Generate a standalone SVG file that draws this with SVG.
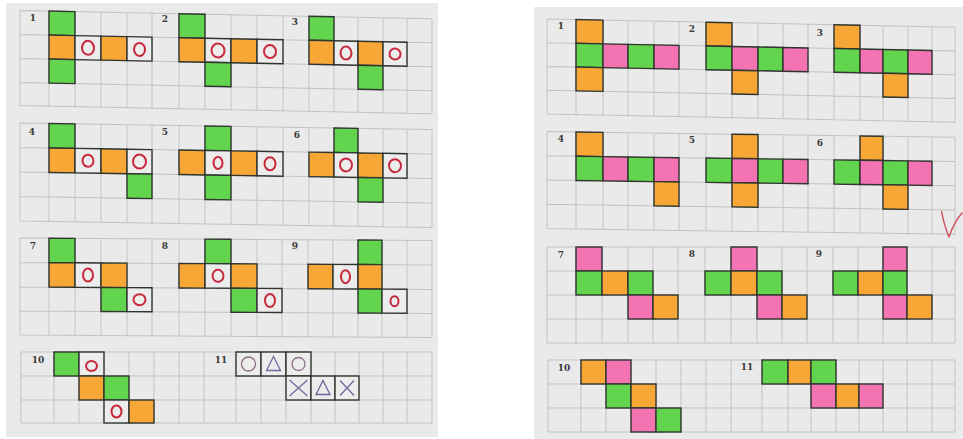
<svg xmlns="http://www.w3.org/2000/svg" width="963" height="439" viewBox="0 0 963 439">
<style>
.paper{fill:#eaeaea}
.grid{fill:none;stroke:#c3c3c3;stroke-width:1}
.g,.o,.p,.w{stroke:#2f352f;stroke-width:1.4}
.g{fill:#63d44d}
.o{fill:#f6a736}
.p{fill:#f373b3}
.w{fill:#ececec}
.c{fill:none;stroke:#c8283c;stroke-width:2}
.sym{fill:none;stroke:#6c6a9c;stroke-width:1.3}
.symc{fill:none;stroke:#8a7288;stroke-width:1.3}
.lbl{font-family:"DejaVu Serif",serif;font-weight:bold;font-size:9px;fill:#3a3a3a;text-anchor:middle}
.chk{fill:none;stroke:#d04a58;stroke-width:1.3;stroke-linecap:round;stroke-linejoin:round}
</style>
<rect width="963" height="439" fill="#ffffff"/>
<rect class="paper" x="6" y="3" width="432" height="434"/>
<rect class="paper" x="534" y="7" width="429" height="432"/>

<!-- LEFT BLOCK 1 -->
<g id="left-block1" transform="translate(20,10.5) skewY(1.15)">
<path class="grid" d="M0 0V95M29 0V95M55 0V95M81 0V95M107 0V95M132 0V95M159 0V95M185 0V95M211 0V95M237 0V95M263 0V95M289 0V95M314 0V95M338 0V95M363 0V95M387 0V95M412 0V95M0 0H412M0 24H412M0 48H412M0 72H412M0 95H412"/>
<g id="net-L1">
<rect class="g" x="29" y="0" width="26" height="24"/>
<rect class="o" x="29" y="24" width="26" height="24"/>
<rect class="w" x="55" y="24" width="26" height="24"/><ellipse class="c" cx="68" cy="36" rx="6" ry="7"/>
<rect class="o" x="81" y="24" width="26" height="24"/>
<rect class="w" x="107" y="24" width="25" height="24"/><ellipse class="c" cx="119.5" cy="36.5" rx="5.5" ry="6.5"/>
<rect class="g" x="29" y="48" width="26" height="24"/>
</g>
<g id="net-L2">
<rect class="g" x="159" y="0" width="26" height="24"/>
<rect class="o" x="159" y="24" width="26" height="24"/>
<rect class="w" x="185" y="24" width="26" height="24"/><ellipse class="c" cx="198" cy="36" rx="6.5" ry="7"/>
<rect class="o" x="211" y="24" width="26" height="24"/>
<rect class="w" x="237" y="24" width="26" height="24"/><ellipse class="c" cx="250" cy="36" rx="6" ry="6.5"/>
<rect class="g" x="185" y="48" width="26" height="24"/>
</g>
<g id="net-L3">
<rect class="g" x="289" y="0" width="25" height="24"/>
<rect class="o" x="289" y="24" width="25" height="24"/>
<rect class="w" x="314" y="24" width="24" height="24"/><ellipse class="c" cx="326" cy="36" rx="5.5" ry="6.5"/>
<rect class="o" x="338" y="24" width="25" height="24"/>
<rect class="w" x="363" y="24" width="24" height="24"/><ellipse class="c" cx="375" cy="36" rx="5.5" ry="5.5"/>
<rect class="g" x="338" y="48" width="25" height="24"/>
</g>
</g>

<!-- LEFT BLOCK 2 -->
<g id="left-block2" transform="translate(20,123) skewY(0.92)">
<path class="grid" d="M0 0V98M29 0V98M55 0V98M81 0V98M107 0V98M132 0V98M159 0V98M185 0V98M211 0V98M237 0V98M263 0V98M289 0V98M314 0V98M338 0V98M363 0V98M387 0V98M412 0V98M0 0H412M0 24.5H412M0 49H412M0 73.5H412M0 98H412"/>
<g id="net-L4">
<rect class="g" x="29" y="0" width="26" height="24.5"/>
<rect class="o" x="29" y="24.5" width="26" height="24.5"/>
<rect class="w" x="55" y="24.5" width="26" height="24.5"/><ellipse class="c" cx="68" cy="36.7" rx="5.5" ry="6"/>
<rect class="o" x="81" y="24.5" width="26" height="24.5"/>
<rect class="w" x="107" y="24.5" width="25" height="24.5"/><ellipse class="c" cx="119.5" cy="36.7" rx="6.5" ry="7"/>
<rect class="g" x="107" y="49" width="25" height="24.5"/>
</g>
<g id="net-L5">
<rect class="g" x="185" y="0" width="26" height="24.5"/>
<rect class="o" x="159" y="24.5" width="26" height="24.5"/>
<rect class="w" x="185" y="24.5" width="26" height="24.5"/><ellipse class="c" cx="198" cy="36.7" rx="4.5" ry="6"/>
<rect class="o" x="211" y="24.5" width="26" height="24.5"/>
<rect class="w" x="237" y="24.5" width="26" height="24.5"/><ellipse class="c" cx="250" cy="36.7" rx="5.5" ry="6.5"/>
<rect class="g" x="185" y="49" width="26" height="24.5"/>
</g>
<g id="net-L6">
<rect class="g" x="314" y="0" width="24" height="24.5"/>
<rect class="o" x="289" y="24.5" width="25" height="24.5"/>
<rect class="w" x="314" y="24.5" width="24" height="24.5"/><ellipse class="c" cx="326" cy="36.7" rx="6" ry="6.5"/>
<rect class="o" x="338" y="24.5" width="25" height="24.5"/>
<rect class="w" x="363" y="24.5" width="24" height="24.5"/><ellipse class="c" cx="375" cy="36.7" rx="6" ry="6.5"/>
<rect class="g" x="338" y="49" width="25" height="24.5"/>
</g>
</g>

<!-- LEFT BLOCK 3 -->
<g id="left-block3" transform="translate(20,238) skewY(0.34)">
<path class="grid" d="M0 0V97M29 0V97M55 0V97M81 0V97M107 0V97M132 0V97M159 0V97M185 0V97M211 0V97M237 0V97M262 0V97M288 0V97M313 0V97M338 0V97M362 0V97M387 0V97M412 0V97M0 0H412M0 24.5H412M0 49H412M0 73H412M0 97H412"/>
<g id="net-L7">
<rect class="g" x="29" y="0" width="26" height="24.5"/>
<rect class="o" x="29" y="24.5" width="26" height="24.5"/>
<rect class="w" x="55" y="24.5" width="26" height="24.5"/><ellipse class="c" cx="68" cy="36.7" rx="5" ry="6.5"/>
<rect class="o" x="81" y="24.5" width="26" height="24.5"/>
<rect class="g" x="81" y="49" width="26" height="24"/>
<rect class="w" x="107" y="49" width="25" height="24"/><ellipse class="c" cx="119.5" cy="61" rx="6" ry="5.5"/>
</g>
<g id="net-L8">
<rect class="g" x="185" y="0" width="26" height="24.5"/>
<rect class="o" x="159" y="24.5" width="26" height="24.5"/>
<rect class="w" x="185" y="24.5" width="26" height="24.5"/><ellipse class="c" cx="198" cy="36.7" rx="5.5" ry="6"/>
<rect class="o" x="211" y="24.5" width="26" height="24.5"/>
<rect class="g" x="211" y="49" width="26" height="24"/>
<rect class="w" x="237" y="49" width="25" height="24"/><ellipse class="c" cx="250" cy="61" rx="5" ry="6.5"/>
</g>
<g id="net-L9">
<rect class="g" x="338" y="0" width="24" height="24.5"/>
<rect class="o" x="288" y="24.5" width="25" height="24.5"/>
<rect class="w" x="313" y="24.5" width="25" height="24.5"/><ellipse class="c" cx="325.5" cy="36.7" rx="4.5" ry="6.5"/>
<rect class="o" x="338" y="24.5" width="24" height="24.5"/>
<rect class="g" x="338" y="49" width="24" height="24"/>
<rect class="w" x="362" y="49" width="25" height="24"/><ellipse class="c" cx="374.5" cy="61" rx="4" ry="5"/>
</g>
</g>

<!-- LEFT BLOCK 4 -->
<g id="left-block4" transform="translate(21,352)">
<path class="grid" d="M0 0V71M33 0V71M58 0V71M83 0V71M108 0V71M133 0V71M158 0V71M183 0V71M215 0V71M240 0V71M265 0V71M290 0V71M314 0V71M338 0V71M362 0V71M386 0V71M411 0V71M0 0H411M0 24H411M0 48H411M0 71H411"/>
<g id="net-L10">
<rect class="g" x="33" y="0" width="25" height="24"/>
<rect class="w" x="58" y="0" width="25" height="24"/><ellipse class="c" cx="70.5" cy="14" rx="5.5" ry="5"/>
<rect class="o" x="58" y="24" width="25" height="24"/>
<rect class="g" x="83" y="24" width="25" height="24"/>
<rect class="w" x="83" y="48" width="25" height="23"/><ellipse class="c" cx="95.5" cy="59.5" rx="5" ry="6"/>
<rect class="o" x="108" y="48" width="25" height="23"/>
</g>
<g id="net-L11">
<rect class="w" x="215" y="0" width="25" height="24"/><circle class="symc" cx="227.5" cy="12" r="7"/>
<rect class="w" x="240" y="0" width="25" height="24"/><path class="sym" d="M252.5 4.5L259.5 18.5H245.5Z"/>
<rect class="w" x="265" y="0" width="25" height="24"/><circle class="symc" cx="277.5" cy="12" r="6.5"/>
<rect class="w" x="265" y="24" width="25" height="24"/><path class="sym" d="M268.5 28L286.5 44M286.5 28L268.5 44"/>
<rect class="w" x="290" y="24" width="24" height="24"/><path class="sym" d="M302 28.5L309 42.5H295Z"/>
<rect class="w" x="314" y="24" width="24" height="24"/><path class="sym" d="M319 28.5L333 43.5M333 28.5L319 43.5"/>
</g>
</g>

<!-- RIGHT BLOCK 1 -->
<g id="right-block1" transform="translate(547,19) skewY(1.15)">
<path class="grid" d="M0 0V95M29 0V95M56 0V95M81 0V95M107 0V95M132 0V95M159 0V95M185 0V95M211 0V95M236 0V95M261 0V95M287 0V95M313 0V95M336 0V95M361 0V95M385 0V95M408 0V95M0 0H408M0 23.75H408M0 47.5H408M0 71.25H408M0 95H408"/>
<g id="net-R1">
<rect class="o" x="29" y="0" width="27" height="23.75"/>
<rect class="g" x="29" y="23.75" width="27" height="23.75"/>
<rect class="p" x="56" y="23.75" width="25" height="23.75"/>
<rect class="g" x="81" y="23.75" width="26" height="23.75"/>
<rect class="p" x="107" y="23.75" width="25" height="23.75"/>
<rect class="o" x="29" y="47.5" width="27" height="23.75"/>
</g>
<g id="net-R2">
<rect class="o" x="159" y="0" width="26" height="23.75"/>
<rect class="g" x="159" y="23.75" width="26" height="23.75"/>
<rect class="p" x="185" y="23.75" width="26" height="23.75"/>
<rect class="g" x="211" y="23.75" width="25" height="23.75"/>
<rect class="p" x="236" y="23.75" width="25" height="23.75"/>
<rect class="o" x="185" y="47.5" width="26" height="23.75"/>
</g>
<g id="net-R3">
<rect class="o" x="287" y="0" width="26" height="23.75"/>
<rect class="g" x="287" y="23.75" width="26" height="23.75"/>
<rect class="p" x="313" y="23.75" width="23" height="23.75"/>
<rect class="g" x="336" y="23.75" width="25" height="23.75"/>
<rect class="p" x="361" y="23.75" width="24" height="23.75"/>
<rect class="o" x="336" y="47.5" width="25" height="23.75"/>
</g>
</g>

<!-- RIGHT BLOCK 2 -->
<g id="right-block2" transform="translate(547,131.6) skewY(0.8)">
<path class="grid" d="M0 0V97M29 0V97M56 0V97M81 0V97M107 0V97M132 0V97M159 0V97M185 0V97M211 0V97M236 0V97M261 0V97M287 0V97M313 0V97M336 0V97M361 0V97M385 0V97M408 0V97M0 0H408M0 24.25H408M0 48.5H408M0 72.75H408M0 97H408"/>
<g id="net-R4">
<rect class="o" x="29" y="0" width="27" height="24.25"/>
<rect class="g" x="29" y="24.25" width="27" height="24.25"/>
<rect class="p" x="56" y="24.25" width="25" height="24.25"/>
<rect class="g" x="81" y="24.25" width="26" height="24.25"/>
<rect class="p" x="107" y="24.25" width="25" height="24.25"/>
<rect class="o" x="107" y="48.5" width="25" height="24.25"/>
</g>
<g id="net-R5">
<rect class="o" x="185" y="0" width="26" height="24.25"/>
<rect class="g" x="159" y="24.25" width="26" height="24.25"/>
<rect class="p" x="185" y="24.25" width="26" height="24.25"/>
<rect class="g" x="211" y="24.25" width="25" height="24.25"/>
<rect class="p" x="236" y="24.25" width="25" height="24.25"/>
<rect class="o" x="185" y="48.5" width="26" height="24.25"/>
</g>
<g id="net-R6">
<rect class="o" x="313" y="0" width="23" height="24.25"/>
<rect class="g" x="287" y="24.25" width="26" height="24.25"/>
<rect class="p" x="313" y="24.25" width="23" height="24.25"/>
<rect class="g" x="336" y="24.25" width="25" height="24.25"/>
<rect class="p" x="361" y="24.25" width="24" height="24.25"/>
<rect class="o" x="336" y="48.5" width="25" height="24.25"/>
</g>
</g>

<!-- RIGHT BLOCK 3 -->
<g id="right-block3" transform="translate(547,247)">
<path class="grid" d="M0 0V96M29 0V96M55 0V96M81 0V96M106 0V96M131 0V96M158 0V96M184 0V96M210 0V96M235 0V96M260 0V96M286 0V96M311 0V96M336 0V96M360 0V96M385 0V96M408 0V96M0 0H408M0 24H408M0 48H408M0 72H408M0 96H408"/>
<g id="net-R7">
<rect class="p" x="29" y="0" width="26" height="24"/>
<rect class="g" x="29" y="24" width="26" height="24"/>
<rect class="o" x="55" y="24" width="26" height="24"/>
<rect class="g" x="81" y="24" width="25" height="24"/>
<rect class="p" x="81" y="48" width="25" height="24"/>
<rect class="o" x="106" y="48" width="25" height="24"/>
</g>
<g id="net-R8">
<rect class="p" x="184" y="0" width="26" height="24"/>
<rect class="g" x="158" y="24" width="26" height="24"/>
<rect class="o" x="184" y="24" width="26" height="24"/>
<rect class="g" x="210" y="24" width="25" height="24"/>
<rect class="p" x="210" y="48" width="25" height="24"/>
<rect class="o" x="235" y="48" width="25" height="24"/>
</g>
<g id="net-R9">
<rect class="p" x="336" y="0" width="24" height="24"/>
<rect class="g" x="286" y="24" width="25" height="24"/>
<rect class="o" x="311" y="24" width="25" height="24"/>
<rect class="g" x="336" y="24" width="24" height="24"/>
<rect class="p" x="336" y="48" width="24" height="24"/>
<rect class="o" x="360" y="48" width="25" height="24"/>
</g>
</g>

<!-- RIGHT BLOCK 4 -->
<g id="right-block4" transform="translate(548,360)">
<path class="grid" d="M0 0V72M33 0V72M58 0V72M83 0V72M108 0V72M133 0V72M158 0V72M183 0V72M214 0V72M240 0V72M263 0V72M288 0V72M311 0V72M335 0V72M359 0V72M384 0V72M407 0V72M0 0H407M0 24H407M0 48H407M0 72H407"/>
<g id="net-R10">
<rect class="o" x="33" y="0" width="25" height="24"/>
<rect class="p" x="58" y="0" width="25" height="24"/>
<rect class="g" x="58" y="24" width="25" height="24"/>
<rect class="o" x="83" y="24" width="25" height="24"/>
<rect class="p" x="83" y="48" width="25" height="24"/>
<rect class="g" x="108" y="48" width="25" height="24"/>
</g>
<g id="net-R11">
<rect class="g" x="214" y="0" width="26" height="24"/>
<rect class="o" x="240" y="0" width="23" height="24"/>
<rect class="g" x="263" y="0" width="25" height="24"/>
<rect class="p" x="263" y="24" width="25" height="24"/>
<rect class="o" x="288" y="24" width="23" height="24"/>
<rect class="p" x="311" y="24" width="24" height="24"/>
</g>
</g>

<!-- check mark -->
<path id="check" class="chk" d="M941.5 211.5Q945 228 949 237Q954 222 962 213"/>

<!-- labels -->
<g id="labels">
<text class="lbl" x="33" y="21">1</text>
<text class="lbl" x="165" y="22">2</text>
<text class="lbl" x="295" y="25">3</text>
<text class="lbl" x="32" y="135">4</text>
<text class="lbl" x="165" y="135">5</text>
<text class="lbl" x="297" y="138">6</text>
<text class="lbl" x="33" y="249">7</text>
<text class="lbl" x="165" y="249">8</text>
<text class="lbl" x="295" y="249">9</text>
<text class="lbl" x="38" y="363">10</text>
<text class="lbl" x="221" y="363">11</text>
<text class="lbl" x="561" y="29">1</text>
<text class="lbl" x="692" y="32">2</text>
<text class="lbl" x="820" y="36">3</text>
<text class="lbl" x="561" y="142">4</text>
<text class="lbl" x="692" y="143">5</text>
<text class="lbl" x="820" y="146">6</text>
<text class="lbl" x="561" y="258">7</text>
<text class="lbl" x="692" y="257">8</text>
<text class="lbl" x="819" y="257">9</text>
<text class="lbl" x="564" y="371">10</text>
<text class="lbl" x="747" y="370">11</text>
</g>
</svg>
